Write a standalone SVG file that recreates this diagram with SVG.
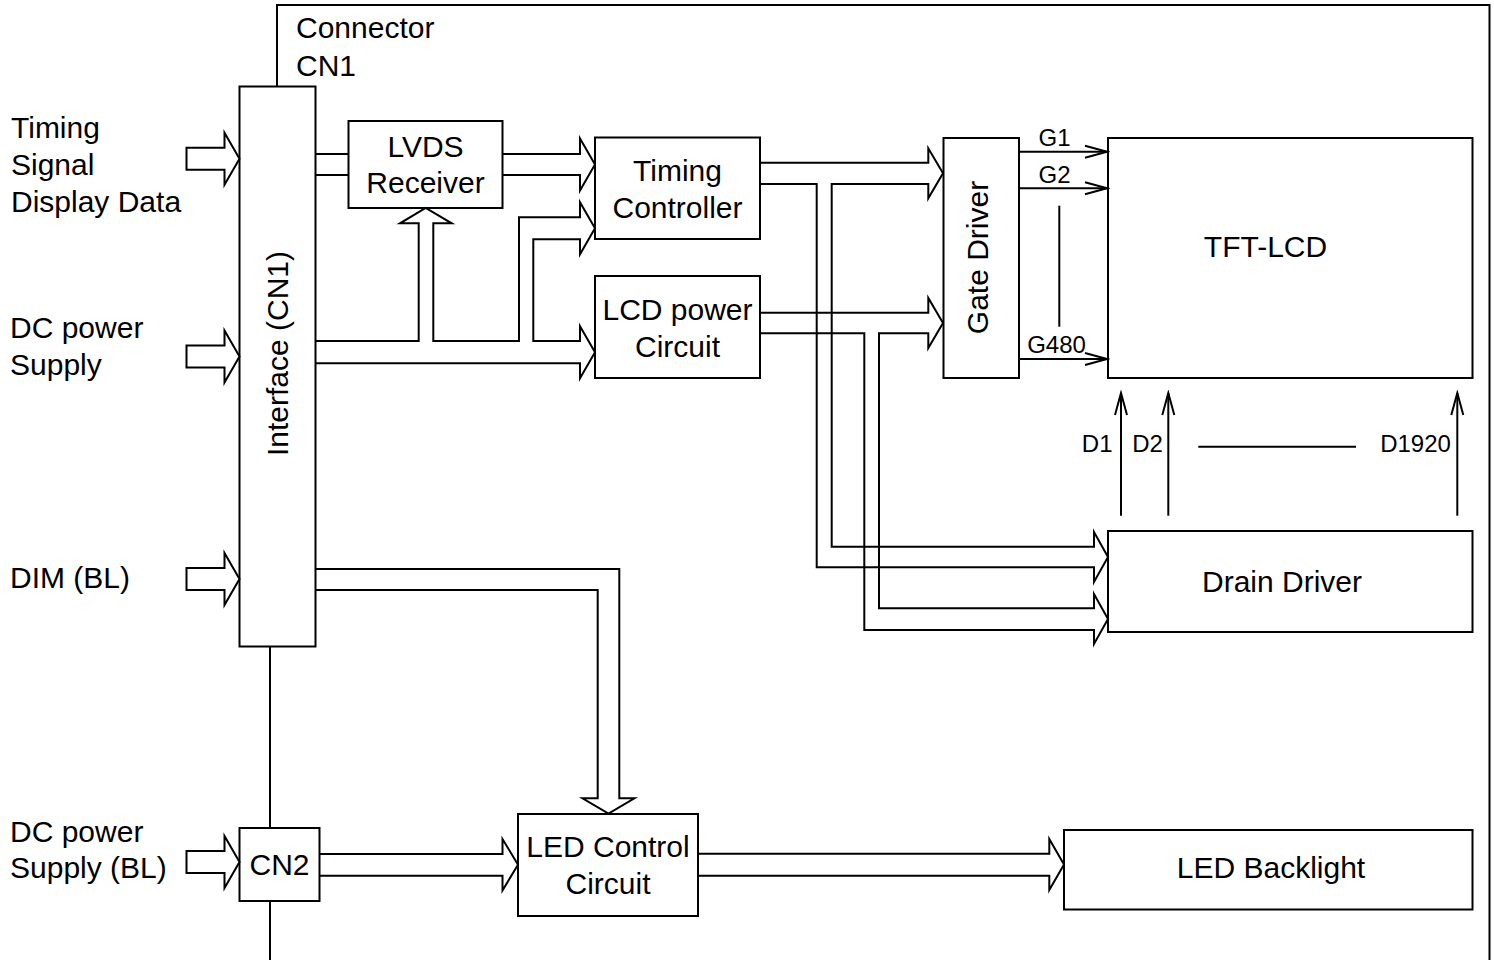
<svg xmlns="http://www.w3.org/2000/svg" width="1494" height="960" viewBox="0 0 1494 960">
<style>
.box{fill:#fff;stroke:#000;stroke-width:2}
.ln{fill:none;stroke:#000;stroke-width:2;stroke-linejoin:miter}
.bus{fill:none;stroke:#000;stroke-width:2;stroke-linejoin:miter}
.inarrow{fill:#fff;stroke:#000;stroke-width:2;stroke-linejoin:miter}
.t{font-family:"Liberation Sans",Arial,Helvetica,sans-serif;font-size:30px;fill:#000}
.s{font-family:"Liberation Sans",Arial,Helvetica,sans-serif;font-size:24px;fill:#000}
.m{text-anchor:middle}
</style>
<defs>
<marker id="open" markerUnits="userSpaceOnUse" markerWidth="26" markerHeight="16" viewBox="0 0 26 16" refX="23" refY="8" orient="auto">
<path d="M1,2 L23,8 L1,14" fill="none" stroke="#000" stroke-width="2"/>
</marker>
<path id="inarr" d="M0,-11 L38,-11 L38,-26 L53,0 L38,26 L38,11 L0,11 Z"/>
</defs>
<rect width="1494" height="960" fill="#fff"/>

<g id="frame">
<path class="ln" d="M277,86 L277,5 L1489.5,5 L1489.5,960"/>
<path class="ln" d="M270,647 L270,828 M270,901 L270,960"/>
<text class="t" x="296" y="38">Connector</text>
<text class="t" x="296" y="76">CN1</text>
</g>

<g id="inputs">
<text class="t" x="11" y="138">Timing</text>
<text class="t" x="11" y="175">Signal</text>
<text class="t" x="11" y="212">Display Data</text>
<text class="t" x="10" y="338">DC power</text>
<text class="t" x="10" y="375">Supply</text>
<text class="t" x="10" y="588">DIM (BL)</text>
<text class="t" x="10" y="842">DC power</text>
<text class="t" x="10" y="878">Supply (BL)</text>
</g>

<g id="interface">
<rect class="box" x="239.5" y="86.5" width="76" height="560"/>
<text class="t m" transform="translate(288,353.5) rotate(-90)">Interface (CN1)</text>
</g>

<g id="cn2">
<rect class="box" x="239.5" y="828" width="80" height="73"/>
<text class="t m" x="279.5" y="875">CN2</text>
</g>

<g id="lvds-receiver">
<rect class="box" x="348.5" y="121" width="154" height="87"/>
<text class="t m" x="425.5" y="157">LVDS</text>
<text class="t m" x="425.5" y="193">Receiver</text>
</g>

<g id="timing-controller">
<rect class="box" x="595" y="137.5" width="165" height="101.5"/>
<text class="t m" x="677.5" y="181">Timing</text>
<text class="t m" x="677.5" y="218">Controller</text>
</g>

<g id="lcd-power-circuit">
<rect class="box" x="595" y="276" width="165" height="102"/>
<text class="t m" x="677.5" y="320">LCD power</text>
<text class="t m" x="677.5" y="357">Circuit</text>
</g>

<g id="gate-driver">
<rect class="box" x="943.5" y="138" width="75.5" height="240"/>
<text class="t m" transform="translate(988,257.5) rotate(-90)">Gate Driver</text>
</g>

<g id="tft-lcd">
<rect class="box" x="1108" y="138" width="364.5" height="240"/>
<text class="t m" x="1265.5" y="257">TFT-LCD</text>
</g>

<g id="drain-driver">
<rect class="box" x="1108" y="531" width="364.5" height="101"/>
<text class="t m" x="1282" y="592">Drain Driver</text>
</g>

<g id="led-control-circuit">
<rect class="box" x="518" y="814" width="180" height="102"/>
<text class="t m" x="608" y="857">LED Control</text>
<text class="t m" x="608" y="894">Circuit</text>
</g>

<g id="led-backlight">
<rect class="box" x="1064" y="830" width="408.5" height="79.5"/>
<text class="t m" x="1271" y="878">LED Backlight</text>
</g>

<g id="connectors">
<!-- external inputs -->
<use href="#inarr" class="inarrow" transform="translate(186.5,158.8)"/>
<use href="#inarr" class="inarrow" transform="translate(186.5,356.5)"/>
<use href="#inarr" class="inarrow" transform="translate(186.5,579)"/>
<use href="#inarr" class="inarrow" transform="translate(186.5,862)"/>

<!-- interface to LVDS -->
<path class="ln" d="M316,154 L348,154 M316,175 L348,175"/>
<!-- LVDS to Timing Controller -->
<path class="bus" d="M502.5,154 L580,154 L580,138.5 L595,164.5 L580,190.5 L580,175 L502.5,175"/>
<!-- DC power bus: to LVDS, Timing Controller, LCD power -->
<path class="bus" d="M316,341 L418.7,341 L418.7,223.3 L400,223.3 L425.7,208 L451.7,223.3 L433.3,223.3 L433.3,341 L519,341 L519,217.3 L580,217.3 L580,202.3 L595,228.3 L580,254.3 L580,239.3 L533.3,239.3 L533.3,341 L580,341 L580,326.2 L595,352.2 L580,378.2 L580,363.3 L316,363.3"/>
<!-- Timing Controller to Gate Driver and Drain Driver -->
<path class="bus" d="M760,162.7 L928.3,162.7 L928.3,148.3 L943,173.3 L928.3,198.3 L928.3,184 L831.7,184 L831.7,546.7 L1094,546.7 L1094,532 L1108,557 L1094,582 L1094,567.3 L816.7,567.3 L816.7,184 L760,184"/>
<!-- LCD power to Gate Driver and Drain Driver -->
<path class="bus" d="M760,312.7 L928.3,312.7 L928.3,298 L943,323 L928.3,348 L928.3,333.3 L879,333.3 L879,608.3 L1094,608.3 L1094,594 L1108,619 L1094,644 L1094,630 L864.3,630 L864.3,333.3 L760,333.3"/>
<!-- DIM to LED Control -->
<path class="bus" d="M316,569 L619.3,569 L619.3,798.3 L634.4,798.3 L608.5,813.5 L582.5,798.3 L597.7,798.3 L597.7,590 L316,590"/>
<!-- CN2 to LED Control -->
<path class="bus" d="M319.5,854 L502.5,854 L502.5,839 L518,864.7 L502.5,890.4 L502.5,875.7 L319.5,875.7"/>
<!-- LED Control to LED Backlight -->
<path class="bus" d="M698,853.7 L1049.3,853.7 L1049.3,839 L1064,864.5 L1049.3,890 L1049.3,875.7 L698,875.7"/>

<!-- gate lines -->
<line class="ln" x1="1019" y1="151.7" x2="1107" y2="151.7" marker-end="url(#open)"/>
<line class="ln" x1="1019" y1="188.3" x2="1107" y2="188.3" marker-end="url(#open)"/>
<line class="ln" x1="1019" y1="359" x2="1107" y2="359" marker-end="url(#open)"/>
<line class="ln" x1="1059.3" y1="205.7" x2="1059.3" y2="326.7"/>
<text class="s m" x="1054.5" y="146">G1</text>
<text class="s m" x="1054.5" y="182.7">G2</text>
<text class="s m" x="1056.5" y="353.3">G480</text>

<!-- data lines -->
<line class="ln" x1="1121" y1="515.7" x2="1121" y2="393" marker-end="url(#open)"/>
<line class="ln" x1="1168.3" y1="515.7" x2="1168.3" y2="393" marker-end="url(#open)"/>
<line class="ln" x1="1457.3" y1="515.7" x2="1457.3" y2="393" marker-end="url(#open)"/>
<line class="ln" x1="1198.3" y1="446.7" x2="1356" y2="446.7"/>
<text class="s m" x="1097.2" y="452">D1</text>
<text class="s m" x="1147.5" y="452">D2</text>
<text class="s m" x="1415.5" y="452">D1920</text>
</g>
</svg>
